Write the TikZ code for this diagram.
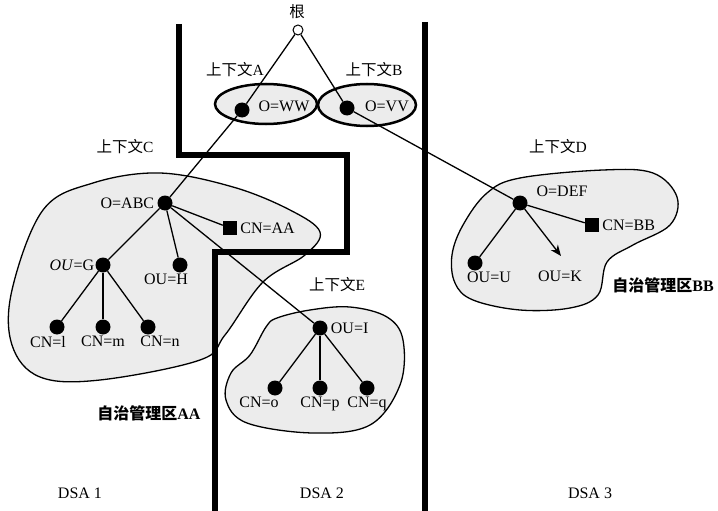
\documentclass[tikz,border=0pt]{standalone}
\usepackage{fontspec}
\setmainfont{Liberation Serif}
\newfontfamily\cjk{Noto Sans CJK SC}
\usetikzlibrary{arrows.meta}

\tikzset{
  nodo/.style={circle, fill=black, inner sep=0pt, minimum size=15pt},
  foglia/.style={rectangle, fill=black, inner sep=0pt, minimum size=14pt},
  lab/.style={font=\fontsize{16}{18}\selectfont, inner sep=1pt},
  titolo/.style={font=\fontsize{15.5}{18}\selectfont, inner sep=1pt},
  area/.style={fill=gray!15, line width=1.3pt},
  ramo/.style={line width=1.3pt},
  confine/.style={line width=6pt},
}

\begin{document}
\begin{tikzpicture}[x=1pt, y=-1pt, >=Stealth]
  \useasboundingbox (0,0) rectangle (718,511);

  % Aree (zone)
  \draw[area] plot[smooth cycle, tension=0.6] coordinates {(160,173) (233,187) (290,210) (320,232) (305,255) (263,282) (225,335) (200,360) (100,380) (40,377) (12,345) (12,290) (43,210) (93,183)};
  \draw[area] plot[smooth cycle, tension=0.6] coordinates {(277,318) (310,310) (350,307) (387,317) (403,340) (400,385) (370,425) (313,433) (247,423) (226,400) (231,373) (250,355) (266,327)};
  \draw[area] plot[smooth cycle, tension=0.6] coordinates {(520,178) (603,170) (653,173) (677,197) (670,225) (633,245) (607,262) (598,295) (570,308) (520,310) (473,300) (455,283) (452,255) (463,225) (487,193)};
  \draw[area, line width=2.5pt] (266,104) ellipse [x radius=51, y radius=20];
  \draw[area, line width=2.5pt] (367,105) ellipse [x radius=49, y radius=21];

  % Confini DSA
  \draw[confine] (179,24) -- (179,155) -- (347,155) -- (347,252) -- (215,252) -- (215,511);
  \draw[confine] (425,22) -- (425,511);

  % Titoli
  \node[titolo] (tA) at (235,70) {{\cjk 上下文}A};
  \node[titolo] (tB) at (374,70) {{\cjk 上下文}B};
  \node[titolo] (tC) at (125,147) {{\cjk 上下文}C};
  \node[titolo] (tD) at (558,147) {{\cjk 上下文}D};
  \node[titolo] (tE) at (337,285) {{\cjk 上下文}E};
  \node[titolo, font=\fontsize{16}{18}\selectfont\bfseries] (zAA) at (149,413) {{\cjk\bfseries 自治管理区}AA};
  \node[titolo, font=\fontsize{16}{18}\selectfont\bfseries] (zBB) at (663,285) {{\cjk\bfseries 自治管理区}BB};
  \node[lab] (d1) at (80,493) {DSA 1};
  \node[lab] (d2) at (322,493) {DSA 2};
  \node[lab] (d3) at (590,493) {DSA 3};

  % Albero
  \node[titolo] (rlab) at (297,12) {\cjk 根};
  \node[circle, draw, line width=1pt, fill=white, inner sep=0pt, minimum size=10pt] (root) at (298,30) {};
  \node[nodo] (ww) at (242,110) {};
  \node[lab] (wwlab) at (284,106) {O=WW};
  \node[nodo] (vv) at (347,108) {};
  \node[lab] (vvlab) at (387,106) {O=VV};

  \node[nodo, label={[lab, label distance=2pt]left:O=ABC}] (abc) at (165,203) {};
  \node[foglia, label={[lab, label distance=2pt]right:CN=AA}] (cnaa) at (230,228) {};
  \node[nodo, label={[lab]left:\textit{OU}=G}] (oug) at (103,265) {};
  \node[nodo, label={[lab, xshift=-14pt]below:OU=H}] (ouh) at (180,265) {};
  \node[nodo, label={[lab, xshift=-9pt]below:CN=l}] (cnl) at (57,327) {};
  \node[nodo, label={[lab]below:CN=m}] (cnm) at (103,327) {};
  \node[nodo, label={[lab, xshift=12pt]below:CN=n}] (cnn) at (148,327) {};

  \node[nodo, label={[lab, label distance=2pt]right:OU=I}] (oui) at (320,328) {};
  \node[nodo, label={[lab, xshift=-16pt]below:CN=o}] (cno) at (275,388) {};
  \node[nodo, label={[lab]below:CN=p}] (cnp) at (320,388) {};
  \node[nodo, label={[lab]below:CN=q}] (cnq) at (367,388) {};

  \node[nodo, label={[lab, xshift=10pt]above right:O=DEF}] (def) at (520,203) {};
  \node[foglia, label={[lab, label distance=2pt]right:CN=BB}] (cnbb) at (592,225) {};
  \node[nodo, label={[lab, xshift=14pt]below:OU=U}] (ouu) at (475,263) {};
  \coordinate (ouk) at (561,256);
  \node[lab] (oukl) at (560,276) {OU=K};

  \draw[ramo] (root) -- (ww) -- (abc);
  \draw[ramo] (root) -- (vv) -- (def);
  \draw[ramo] (abc) -- (cnaa);
  \draw[ramo] (abc) -- (oug);
  \draw[ramo] (abc) -- (ouh);
  \draw[ramo] (abc) -- (oui);
  \foreach \n in {cnl, cnm, cnn} \draw[ramo] (oug) -- (\n);
  \foreach \n in {cno, cnp, cnq} \draw[ramo] (oui) -- (\n);
  \draw[ramo] (def) -- (cnbb);
  \draw[ramo] (def) -- (ouu);
  \draw[ramo, -{Stealth[length=11pt, width=9pt]}] (def) -- (ouk);
\end{tikzpicture}
\end{document}
